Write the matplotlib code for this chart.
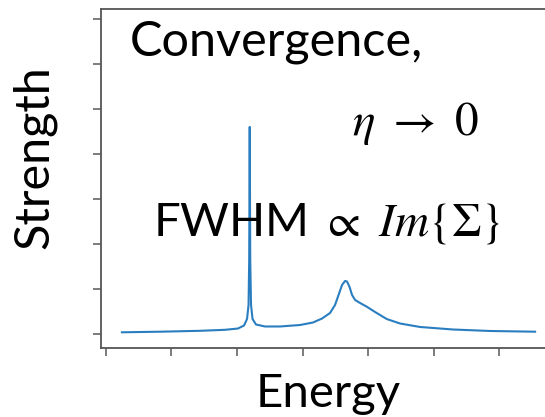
import matplotlib
matplotlib.use('Agg')
import matplotlib.pyplot as plt

# curve (x in tick units, y in tick units)
energy = [0.244, 0.824, 1.435, 1.817, 2.015, 2.107, 2.153, 2.176, 2.186, 2.194,
          2.202, 2.214, 2.237, 2.290, 2.427, 2.656, 2.962, 3.160, 3.298, 3.420,
          3.496, 3.550, 3.603, 3.649, 3.679, 3.718, 3.756, 3.802, 3.878, 3.980,
          4.107, 4.285, 4.489, 4.794, 5.298, 5.863, 6.550]
strength = [0.038, 0.051, 0.071, 0.093, 0.122, 0.189, 0.333, 0.644, 1.644, 4.600,
            1.644, 0.644, 0.333, 0.211, 0.167, 0.167, 0.200, 0.256, 0.344, 0.467,
            0.644, 0.867, 1.089, 1.178, 1.167, 1.044, 0.867, 0.756, 0.689, 0.607,
            0.489, 0.333, 0.233, 0.156, 0.100, 0.067, 0.051]
xticks = [0, 1, 2, 3, 4, 5, 6]
yticks = [0, 1, 2, 3, 4, 5, 6, 7]

plt.rcParams['font.family'] = ['Lato', 'DejaVu Sans']
plt.rcParams['mathtext.fontset'] = 'stix'

W, H = 545, 417
fig = plt.figure(figsize=(W / 100, H / 100), dpi=100)
ax = fig.add_axes([101 / W, (H - 348) / H, (560 - 101) / W, (348 - 9) / H])

ax.plot(energy, strength, color='#2a7ec0', lw=1.5)
ax.set_xlim(-0.076, 6.93)
ax.set_ylim(-0.311, 7.22)
ax.set_xticks(xticks)
ax.set_yticks(yticks)
ax.set_xticklabels([])
ax.set_yticklabels([])
ax.spines['right'].set_visible(False)
for s in ['left', 'bottom', 'top']:
    ax.spines[s].set_color('#555555')
    ax.spines[s].set_linewidth(1.3)
ax.tick_params(length=6, width=1.2, color='#666666', direction='out')

def fx(px):
    return px / W

def fy(py):
    return (H - py) / H

fig.text(fx(130), fy(55), 'Convergence,', fontsize=35, va='baseline')
fig.text(fx(352), fy(135), r'$\eta\ \rightarrow\ 0$', fontsize=34, va='baseline')
fig.text(fx(153), fy(235), r'FWHM $\propto$ $Im\{\Sigma\}$', fontsize=34, va='baseline')
fig.text(fx(34), fy(157), 'Strength', fontsize=35, rotation=90, ha='center', va='center')
fig.text(fx(328), fy(407), 'Energy', fontsize=34, ha='center', va='baseline')

fig.savefig('out.png', dpi=100)
